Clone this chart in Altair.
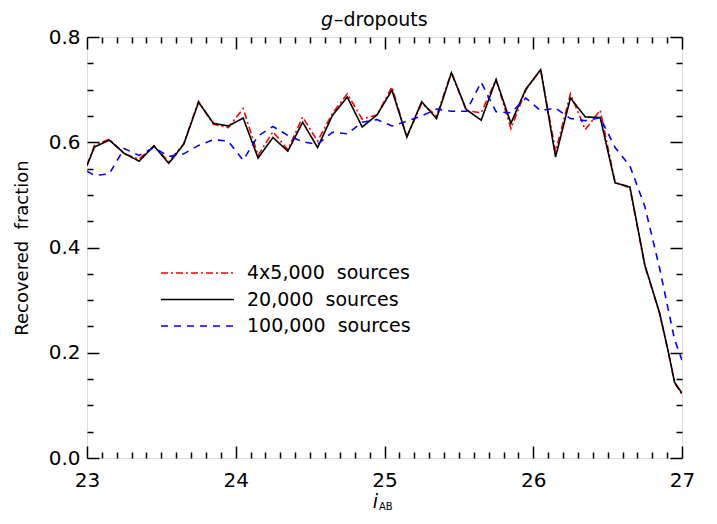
import altair as alt
import pandas as pd

# ---- data ----
series_names = ["4x5,000\u00a0\u00a0sources", "20,000\u00a0\u00a0sources", "100,000\u00a0\u00a0sources"]
series_colors = ["#ff0000", "#000000", "#0000ff"]

x_rb = [23.0, 23.05, 23.15, 23.25, 23.35, 23.45, 23.55, 23.65, 23.75, 23.85, 23.95,
        24.05, 24.15, 24.25, 24.35, 24.45, 24.55, 24.65, 24.75, 24.85, 24.95,
        25.05, 25.15, 25.25, 25.35, 25.45, 25.55, 25.65, 25.75, 25.85, 25.95,
        26.05, 26.15, 26.25, 26.35, 26.45, 26.55, 26.65, 26.75, 26.85, 26.91, 26.95, 27.0]
red_vals = [0.556, 0.594, 0.606, 0.578, 0.568, 0.593, 0.563, 0.597, 0.678, 0.634, 0.628,
            0.664, 0.575, 0.620, 0.586, 0.648, 0.602, 0.655, 0.692, 0.644, 0.652,
            0.705, 0.610, 0.674, 0.650, 0.733, 0.660, 0.656, 0.719, 0.626, 0.699,
            0.738, 0.582, 0.692, 0.624, 0.661, 0.524, 0.513, 0.365, 0.274, 0.198, 0.143, 0.121]
black_vals = [0.556, 0.591, 0.604, 0.579, 0.564, 0.593, 0.560, 0.596, 0.676, 0.636, 0.631,
              0.646, 0.570, 0.609, 0.583, 0.638, 0.590, 0.651, 0.686, 0.629, 0.652,
              0.699, 0.610, 0.677, 0.645, 0.732, 0.662, 0.642, 0.719, 0.636, 0.701,
              0.738, 0.572, 0.684, 0.648, 0.647, 0.523, 0.515, 0.367, 0.275, 0.199, 0.144, 0.123]
x_blue = [23.0, 23.05, 23.15, 23.25, 23.35, 23.45, 23.55, 23.65, 23.75, 23.85, 23.95,
          24.05, 24.15, 24.25, 24.35, 24.45, 24.55, 24.65, 24.75, 24.85, 24.95,
          25.05, 25.15, 25.25, 25.35, 25.45, 25.55, 25.65, 25.75, 25.85, 25.95,
          26.05, 26.15, 26.25, 26.35, 26.45, 26.55, 26.65, 26.75, 26.85, 26.95, 27.0]
blue_vals = [0.545, 0.537, 0.540, 0.588, 0.575, 0.590, 0.573, 0.578, 0.594, 0.605, 0.602,
             0.566, 0.612, 0.630, 0.613, 0.601, 0.596, 0.619, 0.616, 0.638, 0.643,
             0.631, 0.640, 0.650, 0.663, 0.659, 0.659, 0.714, 0.658, 0.656, 0.684,
             0.660, 0.665, 0.645, 0.641, 0.647, 0.590, 0.555, 0.478, 0.360, 0.225, 0.186]

x_major = [23, 24, 25, 26, 27]
y_major = [0.0, 0.2, 0.4, 0.6, 0.8]
x_minor = [round(23 + i * 0.1, 2) for i in range(41) if i % 10]
y_minor = [round(i * 0.05, 2) for i in range(17) if i % 4]

rows = []
for name, xs, vs in [(series_names[0], x_rb, red_vals),
                     (series_names[1], x_rb, black_vals),
                     (series_names[2], x_blue, blue_vals)]:
    for xv, vv in zip(xs, vs):
        rows.append({"x": xv, "v": vv, "series": name})
df = pd.DataFrame(rows)

FONT = "DejaVu Sans"
W, H = 595, 421

leg = alt.Legend(title=None, orient="none", legendX=73, legendY=226,
                 symbolType="stroke", symbolSize=5329, symbolStrokeWidth=1.6,
                 clipHeight=20, rowPadding=6.5, labelFontSize=19, labelOffset=12,
                 labelLimit=400, padding=0, labelFont=FONT, labelColor="black")

lines = alt.Chart(df).mark_line(strokeWidth=1.6, clip=True).encode(
    x=alt.X("x:Q", scale=alt.Scale(domain=[23, 27], nice=False, zero=False),
            axis=alt.Axis(orient="bottom", values=x_major, format="d", ticks=False, tickSize=0,
                          domain=False, grid=False, title=None, labelFontSize=20,
                          labelFont=FONT, labelColor="black", labelPadding=12,
                          labelFlush=False, labelOverlap=False)),
    y=alt.Y("v:Q", scale=alt.Scale(domain=[0, 0.8], nice=False, zero=False),
            axis=alt.Axis(orient="left", values=y_major, format=".1f", ticks=False, tickSize=0,
                          domain=False, grid=False, labelFontSize=20, labelFont=FONT,
                          labelColor="black", labelPadding=7, labelFlush=False,
                          labelOverlap=False,
                          title="Recovered\u00a0 fraction", titleFont=FONT, titleFontSize=18,
                          titleFontWeight="normal", titleColor="black", titleAngle=270,
                          titleX=-65, titleY=H / 2, titleAlign="center", titleBaseline="middle")),
    color=alt.Color("series:N", scale=alt.Scale(domain=series_names, range=series_colors), legend=leg),
    strokeDash=alt.StrokeDash("series:N", scale=alt.Scale(domain=series_names,
                              range=[[7, 3, 2, 3], [1, 0], [7, 6]]), legend=leg),
)


def tick_layer(xo, yo, xv, yv, size):
    return alt.Chart(df).mark_point(opacity=0).encode(
        x=alt.X("x:Q", axis=alt.Axis(orient=xo, values=xv, tickSize=size, offset=-size,
                                     labels=False, domain=False, grid=False, title=None,
                                     tickWidth=1.5, tickColor="black")),
        y=alt.Y("v:Q", axis=alt.Axis(orient=yo, values=yv, tickSize=size, offset=-size,
                                     labels=False, domain=False, grid=False, title=None,
                                     tickWidth=1.5, tickColor="black")),
    )


t1 = tick_layer("bottom", "left", x_major, y_major, 12)
t2 = tick_layer("bottom", "left", x_minor, y_minor, 6)
t3 = tick_layer("top", "right", x_major, y_major, 12)
t4 = tick_layer("top", "right", x_minor, y_minor, 6)

one = pd.DataFrame({"a": [0]})


def label(text, x, y, size, align, style="normal"):
    return alt.Chart(one).mark_text(font=FONT, fontSize=size, fontStyle=style, align=align,
                                    baseline="alphabetic", color="black").encode(
        x=alt.value(x), y=alt.value(y), text=alt.value(text))


title_g = label("g", 246, -11, 19, "right", "italic")
title_rest = label("\u2013dropouts", 247, -11, 19, "left")
xt_i = label("i", 291, 471, 19, "right", "italic")
xt_ab = label("AB", 292, 473, 10, "left")

chart = alt.layer(lines, t1, t2, t3, t4, title_g, title_rest, xt_i, xt_ab).resolve_axis(
    x="independent", y="independent"
).properties(
    width=W, height=H,
    autosize=alt.AutoSizeParams(type="none"),
    padding={"left": 79, "top": 29, "right": 25, "bottom": 55},
).configure_view(stroke="black", strokeWidth=1.6).configure(font=FONT)

chart.save("out.html", embed_options={"renderer": "svg", "actions": False})
